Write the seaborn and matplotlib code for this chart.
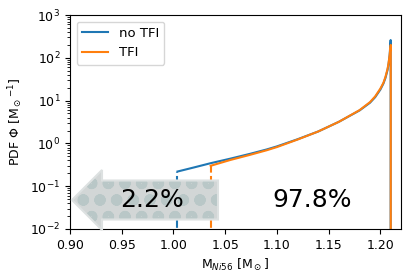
import matplotlib
matplotlib.use("Agg")
import matplotlib.pyplot as plt
import seaborn as sns
import numpy as np
from matplotlib.patches import FancyArrow

# ---- data ----
x_notfi = [1.0039, 1.0039, 1.02, 1.036, 1.055, 1.074, 1.09, 1.10, 1.12, 1.14, 1.16,
           1.18, 1.19, 1.195, 1.200, 1.203, 1.205, 1.207, 1.208, 1.209, 1.2100, 1.2100]
y_notfi = [0.22, 0.22, 0.275, 0.345, 0.44, 0.57, 0.72, 0.85, 1.25, 1.9, 3.2,
           5.9, 8.9, 12.0, 18, 25, 34, 52, 72, 115, 260, 1e-3]
x_tfi = [1.036, 1.036, 1.055, 1.074, 1.09, 1.10, 1.12, 1.14, 1.16,
         1.18, 1.19, 1.195, 1.200, 1.203, 1.205, 1.207, 1.208, 1.209, 1.2101, 1.2101]
y_tfi = [0.30, 0.30, 0.41, 0.54, 0.69, 0.82, 1.23, 1.9, 3.2,
         6.0, 9.2, 12.5, 19, 26, 36, 55, 76, 115, 200, 1e-3]
x_min_notfi = 1.0039
x_min_tfi = 1.036
frac_low = "2.2%"
frac_high = "97.8%"

plt.rcParams['font.size'] = 9

fig = plt.figure(figsize=(4.15, 2.8), dpi=100)
ax = fig.add_axes([70/415, 1-229/280, 331/415, 214/280])

sns.lineplot(x=x_notfi[1:], y=y_notfi[1:], estimator=None, sort=False, ax=ax,
             color='C0', label='no TFI', lw=1.5)
sns.lineplot(x=x_tfi[1:], y=y_tfi[1:], estimator=None, sort=False, ax=ax,
             color='C1', label='TFI', lw=1.5)
ax.plot([x_min_notfi, x_min_notfi], [1e-3, y_notfi[0]], color='C0', ls='--', lw=1.5)
ax.plot([x_min_tfi, x_min_tfi], [1e-3, y_tfi[0]], color='C1', ls='--', lw=1.5)

ax.set_yscale('log')
ax.set_xlim(0.90, 1.22)
ax.set_ylim(1e-2, 1e3)
ax.set_xticks([0.90, 0.95, 1.00, 1.05, 1.10, 1.15, 1.20])
ax.set_xticklabels(['0.90', '0.95', '1.00', '1.05', '1.10', '1.15', '1.20'])
ax.set_xlabel(r'M$_{Ni56}$ [M$_\odot$]')
ax.set_ylabel(r'PDF $\Phi$ [M$_\odot$$^{-1}$]')
ax.legend(loc='upper left', fontsize=9.5)

# arrow (axes coords)
plt.rcParams['hatch.linewidth'] = 3.5
tip_x = 2/331
yc = (229-200)/214
right_x = (218-70)/331
L = right_x - tip_x
arr = FancyArrow(right_x, yc, -L, 0, width=39/214, head_width=60/214,
                 head_length=30/331, length_includes_head=True,
                 transform=ax.transAxes, facecolor='#d2d6d6', edgecolor='#b9c7c7',
                 hatch='o', lw=0, zorder=4, clip_on=False)
ax.add_patch(arr)
arr2 = FancyArrow(right_x, yc, -L, 0, width=39/214, head_width=60/214,
                  head_length=30/331, length_includes_head=True,
                  transform=ax.transAxes, fill=False, edgecolor='#dde1e1',
                  lw=1.5, zorder=4.1, clip_on=False)
ax.add_patch(arr2)

ax.text(0.979, 0.048, frac_low, fontsize=18, ha='center', va='center', zorder=5)
ax.text(1.1345, 0.048, frac_high, fontsize=18, ha='center', va='center', zorder=5)

fig.savefig('out.png', dpi=100)
